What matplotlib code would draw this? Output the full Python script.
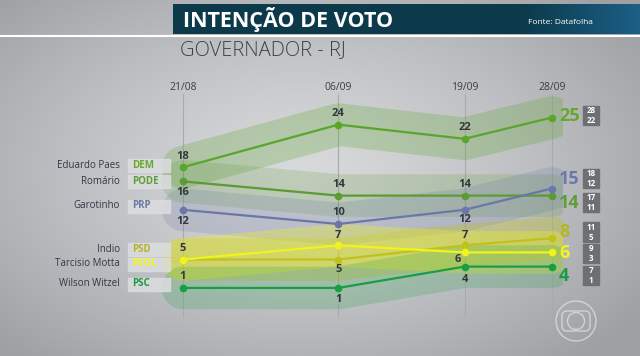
import numpy as np
import matplotlib.pyplot as plt
from matplotlib.patches import Rectangle, Circle, FancyBboxPatch

plt.rcParams['font.family'] = ['Open Sans', 'DejaVu Sans']

# data
dates = np.array(['2018-08-21', '2018-09-06', '2018-09-19', '2018-09-28'], dtype='datetime64[D]')
date_labels = ['21/08', '06/09', '19/09', '28/09']
candidates = ['Eduardo Paes', 'Romário', 'Garotinho', 'Indio', 'Tarcisio Motta', 'Wilson Witzel']
parties = ['DEM', 'PODE', 'PRP', 'PSD', 'PSOL', 'PSC']
paes = [18, 24, 22, 25]
romario = [16, 14, 14, 14]
garotinho = [12, 10, 12, 15]
indio = [5, 5, 7, 8]
tarcisio = [5, 7, 6, 6]
witzel = [1, 1, 4, 4]
ci_high = [28, 17, 18, 11, 9, 7]
ci_low = [22, 11, 12, 5, 3, 1]

series = [paes, romario, garotinho, indio, tarcisio, witzel]
days = (dates - dates[0]).astype(int)

# styles
line_colors = ['#5aa52b', '#5a9c33', '#6a77a8', '#bec31b', '#f0f41c', '#17a040']
text_colors = ['#66a82c', '#5f9d36', '#6c78a8', '#b3b622', '#f3f51f', '#1a9c40']
band_alpha = [0.26, 0.2, 0.2, 0.32, 0.32, 0.2]
# point label offsets (pixels), None = no label
point_offsets = [
    [(0, 11), (0, 11), (0, 11), None],
    [(0, -11), (0, 11), (0, 11), None],
    [(0, -12), (0, 12), (0, -10), None],
    [(0, 11), (0, -10), (0, 10), None],
    [None, (0, 10), (-7, -7), None],
    [(0, 11), (0, -12), (0, -13), None],
]
end_offsets = [2, -7, 10, 6, -1, -9]
name_y = [165, 181, 206, 249, 264, 284]

W, H = 640, 356
fig = plt.figure(figsize=(6.4, 3.56), dpi=100)

# background gradient
bg = fig.add_axes([0, 0, 1, 1])
yy, xx = np.mgrid[0:H, 0:W]
d = np.sqrt(((xx - 300) / 420) ** 2 + ((yy - 170) / 250) ** 2)
d = np.clip(d, 0, 1)
c0 = np.array([216, 217, 219]) / 255
c1 = np.array([158, 160, 164]) / 255
img = c0 + (c1 - c0) * d[..., None] ** 1.3
bg.imshow(img, extent=[0, W, H, 0], aspect='auto')
bg.set_xlim(0, W)
bg.set_ylim(H, 0)
bg.axis('off')

# chart axes: x in days, y in percent
ax = fig.add_axes([0, 0, 1, 1], facecolor='none')
ax.set_xlim(-18.85, 47.07)
ax.set_ylim(-8.59, 41.55)
ax.axis('off')

for dd, lab in zip(days, date_labels):
    ax.axvline(dd, ymin=0.11, ymax=0.735, color='#a8aaae', lw=0.8, zorder=0)
    ax.annotate(lab, (dd, 1), xycoords=('data', 'axes fraction'), xytext=(0, -87),
                textcoords='offset pixels', ha='center', va='center',
                fontsize=7.5, color='#3a3e43')

p0 = ax.transData.transform((0, 0))
p6 = ax.transData.transform((0, 6))
band_lw = (p6[1] - p0[1]) * 72 / fig.dpi

clip = Rectangle((0, 0), 563 / W, 1, transform=ax.transAxes, visible=False)
ax.add_patch(clip)
for vals, lc, a in zip(series, line_colors, band_alpha):
    band, = ax.plot(days, vals, color=lc, alpha=a, lw=band_lw, solid_capstyle='round',
                    solid_joinstyle='round', zorder=1)
    band.set_clip_path(clip)

order = [0, 1, 2, 5, 3, 4]
for i in order:
    ax.plot(days, series[i], color=line_colors[i], lw=1.6, marker='o', ms=4.5, zorder=3 + i * 0.1)

for i, vals in enumerate(series):
    for dd, v, off in zip(days, vals, point_offsets[i]):
        if off is None:
            continue
        ax.annotate(str(v), (dd, v), xytext=off, textcoords='offset pixels',
                    ha='center', va='center', fontsize=8, fontweight='bold',
                    color='#33373b', zorder=5)

# pixel axes for layout
px = fig.add_axes([0, 0, 1, 1], facecolor='none')
px.set_xlim(0, W)
px.set_ylim(H, 0)
px.axis('off')

# end labels and confidence boxes
for i, vals in enumerate(series):
    ex, ey = ax.transData.transform((days[-1], vals[-1]))
    ey = H - ey - end_offsets[i]
    px.text(ex + 7, ey, str(vals[-1]), ha='left', va='center', fontsize=13,
            fontweight='bold', color=text_colors[i], zorder=6)
    for yc, num in [(ey - 5.2, ci_high[i]), (ey + 5.2, ci_low[i])]:
        px.add_patch(Rectangle((583, yc - 4.6), 16, 9.2, color='#6d6f73', zorder=6))
        px.text(591, yc, str(num), ha='center', va='center', fontsize=5.8,
                color='white', fontweight='bold', zorder=7)

# candidate names and party boxes
for name, party, y, tc in zip(candidates, parties, name_y, text_colors):
    px.text(120, y, name, ha='right', va='center', fontsize=7, color='#2d3945')
    px.add_patch(Rectangle((128, y - 6.5), 42, 13, color='#dcdddf', alpha=0.85, zorder=2))
    px.text(132, y, party, ha='left', va='center', fontsize=7, fontweight='bold',
            color=tc, zorder=3)

# header
px.plot([0, W], [35.5, 35.5], color='white', lw=1.5)
bar = np.linspace(0, 1, 200)
bar_img = np.zeros((2, 200, 3))
start = np.array([12, 58, 75]) / 255
end = np.array([28, 95, 135]) / 255
w = np.clip((bar - 0.75) / 0.25, 0, 1)[None, :, None]
bar_img[:] = start + (end - start) * w
px.imshow(bar_img, extent=[173, W, 34.5, 5], aspect='auto', zorder=4)
px.set_xlim(0, W)
px.set_ylim(H, 0)
px.text(183, 20, 'INTENÇÃO DE VOTO', ha='left', va='center', fontsize=15.5,
        fontweight='bold', color='white', zorder=5)
px.text(528, 22, 'Fonte: Datafolha', ha='left', va='center', fontsize=6,
        color='white', zorder=5)
px.text(180, 50, 'GOVERNADOR - RJ', ha='left', va='center', fontsize=14.5,
        fontweight='light', color='#3c4044')

# logo
px.add_patch(Circle((576, 321), 20, fill=False, ec='white', alpha=0.5, lw=1))
px.add_patch(FancyBboxPatch((562, 311), 28, 20, boxstyle='round,pad=0,rounding_size=5',
                            fill=False, ec='white', alpha=0.5, lw=1))
px.add_patch(Circle((576, 321), 8.5, fill=False, ec='white', alpha=0.5, lw=1))

fig.savefig('out.png', dpi=100)
